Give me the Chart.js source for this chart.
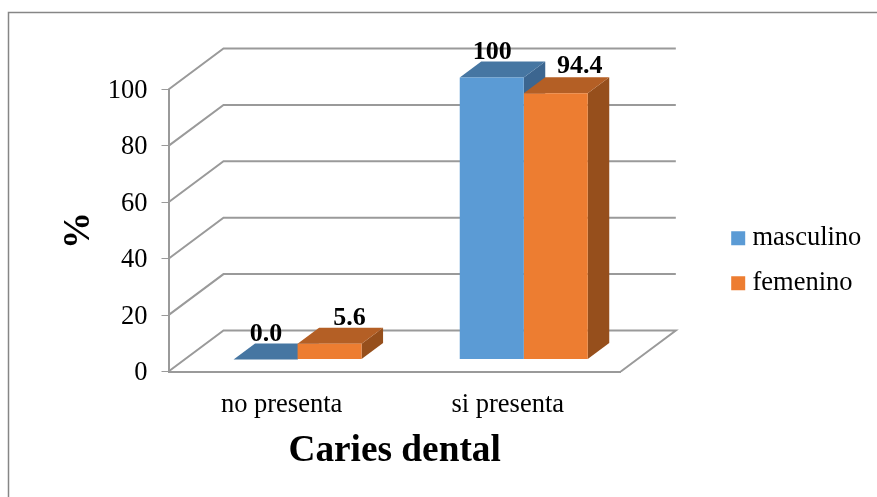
<!DOCTYPE html>
<html>
<head>
<meta charset="utf-8">
<style>
  html, body { margin: 0; padding: 0; background: #fff; }
  canvas { display: block; }
</style>
</head>
<body>
<canvas id="cariesChart" width="877" height="497"></canvas>
<script src="https://cdn.jsdelivr.net/npm/chart.js@4"></script>
<script>
const categories = ['no presenta', 'si presenta'];
const masculino = [0.0, 100];
const femenino = [5.6, 94.4];
const masculinoText = ['0.0', '100'];
const femeninoText = ['5.6', '94.4'];

const SERIF = '"Liberation Serif", "Times New Roman", serif';
const GRID = '#9a9a9a';

// faces of the 3d look: [front, top, side]
const shades = [
    ['#5b9bd5', '#4676a2', '#3c6690'],
    ['#ed7d31', '#b45f25', '#964f1c']
];
// wall sits this far behind the front plane, bars sit part way
const wall = { x: 55, y: -41 };
const bar3d = { x: 16, y: -12, dx: 21.5, dy: -16 };
// label nudges from the bar's front centre, they were placed by hand in the original
const labelShift = [
    [{ x: 0, y: -9.5 }, { x: 19.5, y: -9 }],
    [{ x: 0, y: -9.5 }, { x: 23.5, y: -11 }]
];

function face(ctx, pts, color) {
    ctx.fillStyle = color;
    ctx.beginPath();
    pts.forEach((p, i) => i ? ctx.lineTo(p[0], p[1]) : ctx.moveTo(p[0], p[1]));
    ctx.closePath();
    ctx.fill();
}

const depthPlugin = {
    id: 'depth',
    afterLayout(chart) {
        // legend sits apart from the plot in the original
        const lg = chart.legend;
        const shift = 718.7 - lg.left;
        lg.left += shift;
        lg.right += shift;
        lg.top -= 23;
        lg.bottom -= 23;
    },
    beforeDatasetsDraw(chart) {
        const { ctx, chartArea: area } = chart;
        const yScale = chart.scales.y;

        // outer frame, only left and top are visible
        ctx.save();
        ctx.strokeStyle = '#868686';
        ctx.lineWidth = 1.5;
        ctx.beginPath();
        ctx.moveTo(8.5, 497);
        ctx.lineTo(8.5, 12.5);
        ctx.lineTo(877, 12.5);
        ctx.stroke();

        // walls and floor
        ctx.strokeStyle = GRID;
        ctx.lineWidth = 2;
        yScale.ticks.forEach(t => {
            const y = yScale.getPixelForValue(t.value);
            ctx.beginPath();
            ctx.moveTo(area.left, y);
            ctx.lineTo(area.left + wall.x, y + wall.y);
            ctx.lineTo(area.right + wall.x, y + wall.y);
            if (t.value === 0) ctx.lineTo(area.right, y);
            ctx.stroke();
        });

        // top and side faces, the library draws the fronts afterwards
        chart.data.datasets.forEach((ds, di) => {
            chart.getDatasetMeta(di).data.forEach(b => {
                const l = b.x - b.width / 2 + bar3d.x;
                const r = b.x + b.width / 2 + bar3d.x;
                const t = b.y + bar3d.y;
                const bot = b.base + bar3d.y;
                const dx = bar3d.dx, dy = bar3d.dy;
                if (bot - t > 0.5) {
                    face(ctx, [[r, t], [r + dx, t + dy], [r + dx, bot + dy], [r, bot]], shades[di][2]);
                }
                face(ctx, [[l, t], [l + dx, t + dy], [r + dx, t + dy], [r, t]], shades[di][1]);
            });
        });
        ctx.restore();

        ctx.save();
        ctx.translate(bar3d.x, bar3d.y);
    },
    afterDatasetsDraw(chart) {
        const { ctx } = chart;
        ctx.restore();

        ctx.save();
        ctx.font = 'bold 26px ' + SERIF;
        ctx.fillStyle = '#000';
        ctx.textAlign = 'center';
        ctx.textBaseline = 'middle';
        [masculinoText, femeninoText].forEach((texts, di) => {
            chart.getDatasetMeta(di).data.forEach((b, i) => {
                const s = labelShift[i][di];
                const cx = b.x + 16.5 + s.x;
                const cy = b.y + bar3d.y + bar3d.dy + s.y;
                ctx.fillText(texts[i], cx, cy);
            });
        });
        ctx.restore();
    }
};

new Chart(document.getElementById('cariesChart'), {
    type: 'bar',
    data: {
        labels: categories,
        datasets: [
            { label: 'masculino', data: masculino, backgroundColor: shades[0][0], clip: false },
            { label: 'femenino', data: femenino, backgroundColor: shades[1][0], clip: false }
        ]
    },
    plugins: [depthPlugin],
    options: {
        responsive: false,
        animation: false,
        layout: { padding: { left: 57, top: 89.5, right: 103.5, bottom: 19 } },
        datasets: { bar: { categoryPercentage: 0.566, barPercentage: 1 } },
        plugins: {
            tooltip: { enabled: false },
            legend: {
                position: 'right',
                labels: {
                    color: '#000',
                    usePointStyle: true,
                    pointStyle: 'rect',
                    boxWidth: 2,
                    boxHeight: 14,
                    padding: 18.5,
                    font: { family: SERIF, size: 26.5 }
                }
            }
        },
        scales: {
            x: {
                grid: { display: false },
                border: { color: GRID, width: 2 },
                afterFit(scale) { scale.height = 106.5; },
                ticks: { color: '#000', padding: 10, font: { family: SERIF, size: 26.5 } },
                title: {
                    display: true,
                    text: 'Caries dental',
                    color: '#000',
                    font: { family: SERIF, size: 37.3, weight: 'bold' }
                }
            },
            y: {
                min: 0,
                max: 100,
                afterFit(scale) { scale.width = 111.5; },
                grid: { drawOnChartArea: false, color: GRID, tickLength: 7 },
                border: { color: GRID, width: 2 },
                ticks: { stepSize: 20, color: '#000', padding: 14, labelOffset: 1.5, font: { family: SERIF, size: 26.5 } },
                title: {
                    display: true,
                    text: '%',
                    color: '#000',
                    padding: 0,
                    font: { family: SERIF, size: 37, weight: 'bold' }
                }
            }
        }
    }
});
</script>
</body>
</html>
